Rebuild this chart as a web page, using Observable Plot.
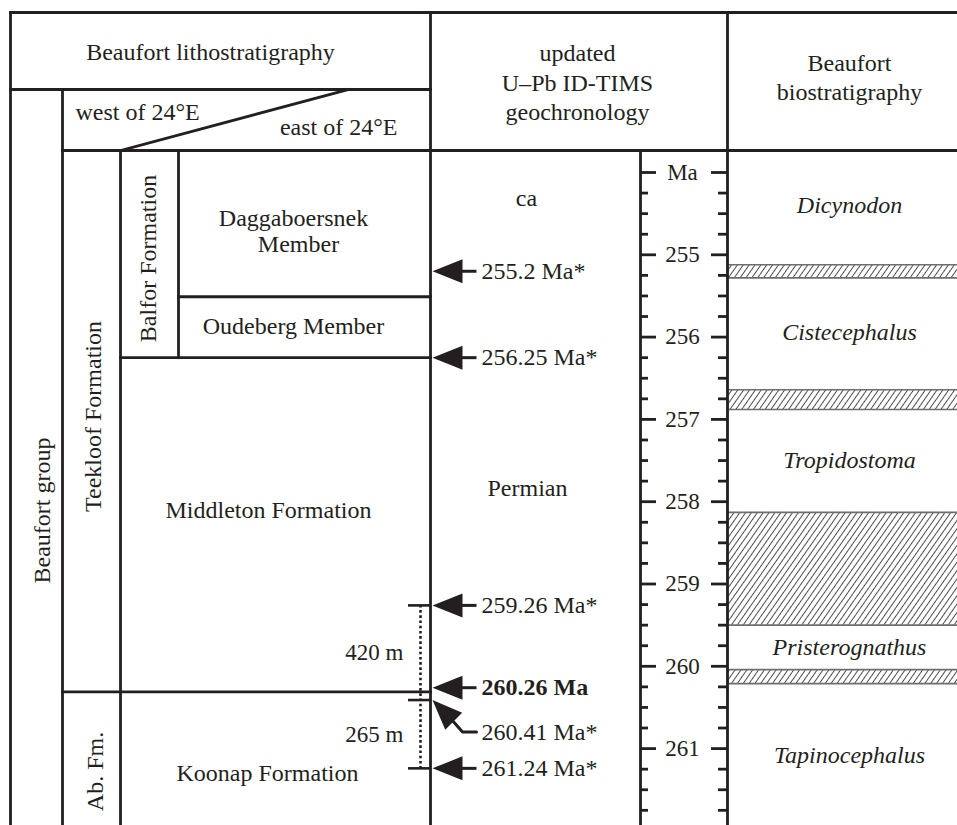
<!DOCTYPE html>
<html><head><meta charset="utf-8">
<script src="https://cdn.jsdelivr.net/npm/d3@7"></script>
<script src="https://cdn.jsdelivr.net/npm/@observablehq/plot@0.6"></script>
<style>
html,body{margin:0;padding:0;background:#fff;}
#chart svg{display:block;}
</style></head><body><div id="chart"></div>
<script>
// ================= DATA =================
// U–Pb ID-TIMS ages (Ma) and their labels
const ageValues = [255.2, 256.25, 259.26, 260.26, 260.41, 261.24];
const ageLabels = ["255.2 Ma*", "256.25 Ma*", "259.26 Ma*", "260.26 Ma", "260.41 Ma*", "261.24 Ma*"];
const ageBold   = [false, false, false, true, false, false];
// Biostratigraphic assemblage zones and hatched (uncertain) boundary intervals, Ma
const biozones    = ["Dicynodon", "Cistecephalus", "Tropidostoma", "Pristerognathus", "Tapinocephalus"];
const hatchTop    = [255.12, 256.64, 258.13, 260.04];
const hatchBottom = [255.28, 256.88, 259.50, 260.21];
// Lithostratigraphic boundaries, Ma
const daggaboersnekBase = 255.51;
const balforBase        = 256.25;
const middletonBase     = 260.31;
// Measured section thicknesses between dated horizons
const thicknessAges   = [259.26, 260.41, 261.24];
const thicknessLabels = ["420 m", "265 m"];
// Time axis ticks
const axisTicks = d3.range(254, 261.76, 0.25);
const axisLabelFor = v => v === 254 ? "Ma" : String(v);
// Text labels
const lithoUnits   = ["Daggaboersnek", "Member", "Oudeberg Member", "Middleton Formation", "Koonap Formation"];
const rotatedUnits = ["Beaufort group", "Teekloof Formation", "Balfor Formation", "Ab. Fm."];
const headerTexts  = ["Beaufort lithostratigraphy", "updated", "U–Pb ID-TIMS", "geochronology", "Beaufort", "biostratigraphy"];
const regionTexts  = ["west of 24°E", "east of 24°E"];
const periodTexts  = ["ca", "Permian"];

// ================= LAYOUT =================
const W = 957, H = 825;
const PX_PER_MA = 82.3, PX_AT_255 = 254.3;
const py = px => 255 + (px - PX_AT_255) / PX_PER_MA;   // pixel row -> Ma on the diagram's scale
const X = {left: 10, grp: 62, fm: 120, mbr: 178, geo: 430, axL: 640, axR: 727, right: 957, diag: 348};
const ROW = {top: py(12), mid: py(89), head: py(150), bottom: py(H + 4)};
const INK = "#231f20", FONT = "Liberation Serif, Times New Roman, serif", FS = 24, FS_AX = 23;

const frame = [
  {x1: X.left, y1: ROW.top, x2: X.right, y2: ROW.top},
  {x1: X.left, y1: ROW.top, x2: X.left, y2: ROW.bottom},
  {x1: X.geo, y1: ROW.top, x2: X.geo, y2: ROW.bottom},
  {x1: X.axR, y1: ROW.top, x2: X.axR, y2: ROW.bottom},
  {x1: X.left, y1: ROW.mid, x2: X.geo, y2: ROW.mid},
  {x1: X.grp, y1: ROW.mid, x2: X.grp, y2: ROW.bottom},
  {x1: X.grp, y1: ROW.head, x2: X.right, y2: ROW.head},
  {x1: X.fm, y1: ROW.head, x2: X.fm, y2: ROW.bottom},
  {x1: X.fm, y1: ROW.head, x2: X.diag, y2: ROW.mid},
  {x1: X.mbr, y1: ROW.head, x2: X.mbr, y2: balforBase},
  {x1: X.mbr, y1: daggaboersnekBase, x2: X.geo, y2: daggaboersnekBase},
  {x1: X.fm, y1: balforBase, x2: X.geo, y2: balforBase},
  {x1: X.grp, y1: middletonBase, x2: X.geo, y2: middletonBase},
  {x1: X.axL, y1: ROW.head, x2: X.axL, y2: ROW.bottom}
];

const headerPos = [[210, 52], [577, 53], [577, 83], [577, 112], [849, 63], [849, 92]];
const lithoPos  = [[293, 218], [298, 244], [293, 326], [268, 510], [267, 773]];
const rotPos    = [[42, 510], [93, 416], [148, 258], [95, 771]];
const bioPos    = [[849, 205], [849, 332], [849, 460], [849, 647], [849, 755]];
const periodPos = [[526, 198], [527, 488]];

const texts = [];
headerTexts.forEach((t, i) => texts.push({t, x: headerPos[i][0], y: py(headerPos[i][1])}));
lithoUnits.forEach((t, i) => texts.push({t, x: lithoPos[i][0], y: py(lithoPos[i][1])}));
periodTexts.forEach((t, i) => texts.push({t, x: periodPos[i][0], y: py(periodPos[i][1])}));
const rotTexts = rotatedUnits.map((t, i) => ({t, x: rotPos[i][0], y: py(rotPos[i][1])}));
const bioTexts = biozones.map((t, i) => ({t, x: bioPos[i][0], y: py(bioPos[i][1])}));

// arrows
const TIP = 432, SHAFT_END = 476, LABEL_X = 481;
const BENT = 4, BENT_DROP = 32 / PX_PER_MA;
const arrows = ageValues.map((v, i) => ({
  age: v, label: ageLabels[i], bold: ageBold[i], bent: i === BENT,
  ly: i === BENT ? v + BENT_DROP : v
}));
const leftTri = {draw(ctx) { ctx.moveTo(0, 0); ctx.lineTo(30, -12); ctx.lineTo(30, 12); ctx.closePath(); }};
const rot = (x, y, a) => [x * Math.cos(a) - y * Math.sin(a), x * Math.sin(a) + y * Math.cos(a)];
const diagTri = {draw(ctx) {
  const a = Math.PI / 4, p1 = rot(30, -12, a), p2 = rot(30, 12, a);
  ctx.moveTo(0, 0); ctx.lineTo(p1[0], p1[1]); ctx.lineTo(p2[0], p2[1]); ctx.closePath();
}};
const bentShaft = arrows.filter(d => d.bent).flatMap(d => [
  {x: TIP + 16, y: d.age + 16 / PX_PER_MA},
  {x: TIP + 30, y: d.ly},
  {x: SHAFT_END, y: d.ly}
]);

const bands = hatchTop.map((t, i) => ({top: t, bottom: hatchBottom[i]}));
const bandEdges = bands.flatMap(b => [b.top, b.bottom]);
const thickness = thicknessLabels.map((t, i) => ({t, y: (thicknessAges[i] + thicknessAges[i + 1]) / 2}));

const svg = Plot.plot({
  width: W, height: H, margin: 0,
  x: {type: "linear", domain: [0, W], range: [0, W], axis: null},
  y: {type: "linear", domain: [py(0), py(H)], range: [0, H], axis: null},
  style: {background: "#fff", fontFamily: FONT},
  marks: [
    // hatched biozone boundaries
    Plot.rect(bands, {x1: X.axR, x2: X.right, y1: "top", y2: "bottom", fill: "url(#hatch)"}),
    Plot.ruleY(bandEdges, {y: d => d, x1: X.axR, x2: X.right, stroke: "#6d6e71", strokeWidth: 1.6}),
    // table frame
    Plot.link(frame, {x1: "x1", y1: "y1", x2: "x2", y2: "y2", stroke: INK, strokeWidth: 2.8, strokeLinecap: "square"}),
    // time axis ticks on both sides of the Ma column
    Plot.ruleY(axisTicks, {y: d => d, x1: X.axL, x2: d => X.axL + (d % 1 === 0 ? 16 : 8), stroke: INK, strokeWidth: 2.8}),
    Plot.ruleY(axisTicks, {y: d => d, x1: d => X.axR - (d % 1 === 0 ? 16 : 9), x2: X.axR, stroke: INK, strokeWidth: 2.8}),
    Plot.text(axisTicks.filter(d => d % 1 === 0), {x: 682, y: d => d, text: axisLabelFor, fontSize: FS_AX, fontFamily: FONT, fill: INK}),
    // thickness bracket
    Plot.ruleY(thicknessAges, {y: d => d, x1: 408, x2: X.geo, stroke: INK, strokeWidth: 2.6}),
    Plot.ruleX([0], {x: 420, y1: thicknessAges[0], y2: thicknessAges[thicknessAges.length - 1], stroke: INK, strokeWidth: 2.6, strokeDasharray: "2.6,2.6"}),
    Plot.text(thickness, {x: 403, y: "y", text: "t", textAnchor: "end", fontSize: FS_AX, fontFamily: FONT, fill: INK}),
    // age arrows
    Plot.link(arrows.filter(d => !d.bent), {x1: TIP + 24, x2: SHAFT_END, y1: "age", y2: "age", stroke: INK, strokeWidth: 3}),
    Plot.line(bentShaft, {x: "x", y: "y", stroke: INK, strokeWidth: 3, strokeLinejoin: "miter"}),
    Plot.dot(arrows.filter(d => !d.bent), {x: TIP, y: "age", symbol: leftTri, fill: INK, stroke: "none", r: 5}),
    Plot.dot(arrows.filter(d => d.bent), {x: TIP, y: "age", symbol: diagTri, fill: INK, stroke: "none", r: 5}),
    Plot.text(arrows.filter(d => !d.bold), {x: LABEL_X, y: "ly", text: "label", textAnchor: "start", fontSize: FS, fontFamily: FONT, fill: INK}),
    Plot.text(arrows.filter(d => d.bold), {x: LABEL_X, y: "ly", text: "label", textAnchor: "start", fontSize: FS, fontWeight: "bold", fontFamily: FONT, fill: INK}),
    // labels
    Plot.text(texts, {x: "x", y: "y", text: "t", fontSize: FS, fontFamily: FONT, fill: INK}),
    Plot.text([regionTexts[0]], {x: 75, y: py(112), text: d => d, textAnchor: "start", fontSize: FS, fontFamily: FONT, fill: INK}),
    Plot.text([regionTexts[1]], {x: 397, y: py(127), text: d => d, textAnchor: "end", fontSize: FS, fontFamily: FONT, fill: INK}),
    Plot.text(rotTexts, {x: "x", y: "y", text: "t", rotate: -90, fontSize: FS, fontFamily: FONT, fill: INK}),
    Plot.text(bioTexts, {x: "x", y: "y", text: "t", fontStyle: "italic", fontSize: FS, fontFamily: FONT, fill: INK})
  ]
});

// hatch pattern definition
const defs = d3.select(svg).insert("defs", ":first-child");
const pat = defs.append("pattern").attr("id", "hatch").attr("patternUnits", "userSpaceOnUse")
  .attr("width", 4.8).attr("height", 10).attr("patternTransform", "rotate(35)");
pat.append("rect").attr("width", 4.8).attr("height", 10).attr("fill", "#fff");
pat.append("line").attr("x1", 2.4).attr("y1", 0).attr("x2", 2.4).attr("y2", 10)
  .attr("stroke", "#4a4a4c").attr("stroke-width", 1);

document.getElementById("chart").appendChild(svg);
</script>
</body></html>
